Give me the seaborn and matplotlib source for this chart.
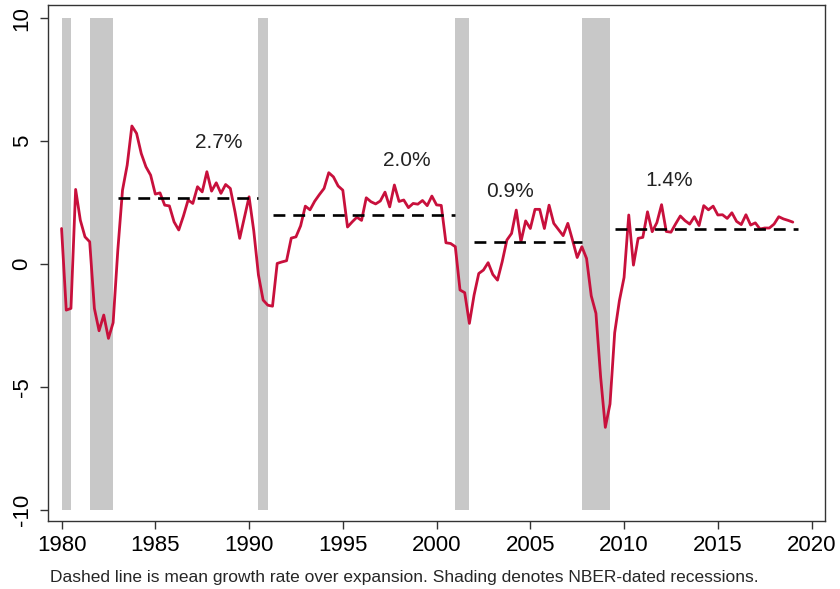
import numpy as np
import pandas as pd
import matplotlib
matplotlib.use("Agg")
import matplotlib.pyplot as plt
import seaborn as sns

# quarterly growth rate (%), 1980Q1 .. 2019Q1
growth = [
    1.44, -1.88, -1.81, 3.03,    # 1980
    1.78, 1.10, 0.90, -1.81,     # 1981
    -2.72, -2.08, -3.03, -2.39,  # 1982
    0.56, 3.00, 4.02, 5.61,      # 1983
    5.31, 4.49, 3.95, 3.61,      # 1984
    2.84, 2.89, 2.39, 2.36,      # 1985
    1.71, 1.38, 1.95, 2.60,      # 1986
    2.46, 3.14, 2.93, 3.75,      # 1987
    2.96, 3.30, 2.87, 3.23,      # 1988
    3.07, 2.12, 1.04, 1.88,      # 1989
    2.73, 1.35, -0.45, -1.47,    # 1990
    -1.68, -1.72, 0.02, 0.08,    # 1991
    0.13, 1.05, 1.10, 1.55,      # 1992
    2.35, 2.20, 2.55, 2.82,      # 1993
    3.07, 3.71, 3.54, 3.17,      # 1994
    3.00, 1.50, 1.71, 1.90,      # 1995
    1.77, 2.69, 2.53, 2.44,      # 1996
    2.56, 2.92, 2.32, 3.21,      # 1997
    2.54, 2.60, 2.29, 2.46,      # 1998
    2.43, 2.58, 2.37, 2.76,      # 1999
    2.40, 2.38, 0.86, 0.83,      # 2000
    0.70, -1.06, -1.17, -2.42,   # 2001
    -1.27, -0.39, -0.25, 0.05,   # 2002
    -0.43, -0.66, 0.09, 0.97,    # 2003
    1.24, 2.19, 0.90, 1.75,      # 2004
    1.44, 2.22, 2.22, 1.44,      # 2005
    2.39, 1.65, 1.40, 1.15,      # 2006
    1.65, 0.97, 0.26, 0.70,      # 2007
    0.22, -1.30, -2.01, -4.60,   # 2008
    -6.65, -5.70, -2.80, -1.50,  # 2009
    -0.55, 1.99, -0.05, 1.04,    # 2010
    1.08, 2.12, 1.31, 1.68,      # 2011
    2.41, 1.32, 1.29, 1.63,      # 2012
    1.95, 1.76, 1.62, 1.92,      # 2013
    1.56, 2.37, 2.20, 2.35,      # 2014
    1.99, 2.00, 1.85, 2.08,      # 2015
    1.73, 1.60, 2.00, 1.58,      # 2016
    1.67, 1.42, 1.46, 1.46,      # 2017
    1.62, 1.92, 1.83, 1.77,      # 2018
    1.70,                        # 2019
]
first_year = 1980

# NBER recessions (start, end) in fractional years
rec_start = [1980.0, 1981.5, 1990.5, 2001.0, 2007.75]
rec_end = [1980.5, 1982.75, 1991.0, 2001.75, 2009.25]

# expansions and their mean growth
exp_start = [1983.0, 1991.25, 2002.0, 2009.5]
exp_end = [1990.5, 2001.0, 2007.75, 2019.25]
exp_mean = [2.7, 2.0, 0.9, 1.4]
exp_label = ["2.7%", "2.0%", "0.9%", "1.4%"]
label_x = [1988.4, 1998.4, 2003.9, 2012.4]
label_y = [4.93, 4.22, 2.96, 3.41]

xticks = [1980, 1985, 1990, 1995, 2000, 2005, 2010, 2015, 2020]
yticks = [-10, -5, 0, 5, 10]
caption = "Dashed line is mean growth rate over expansion. Shading denotes NBER-dated recessions."

df = pd.DataFrame({
    "date": first_year + np.arange(len(growth)) / 4,
    "growth": growth,
})

sns.set_style("white")
plt.rcParams["font.family"] = ["Liberation Sans", "DejaVu Sans"]
plt.rcParams["axes.unicode_minus"] = False

fig = plt.figure(figsize=(8.4, 5.89), dpi=100)
ax = fig.add_axes([0.057, 0.1154, 0.925, 0.876])

# recession shading
for s, e in zip(rec_start, rec_end):
    ax.fill_between([s, e], -10, 10, color="#c8c8c8", lw=0, zorder=1)

sns.lineplot(data=df, x="date", y="growth", ax=ax, color="#c8103c",
             lw=2.0, zorder=3)

# mean over each expansion
ax.hlines(exp_mean, exp_start, exp_end, colors="black", linestyles=(0, (4.5, 3)),
          lw=1.9, zorder=4)

for x, y, s in zip(label_x, label_y, exp_label):
    ax.text(x, y, s, ha="center", va="center", fontsize=15, color="#222222")

ax.set_xlim(1979.27, 2020.71)
ax.set_ylim(-10.46, 10.53)
ax.set_xticks(xticks)
ax.set_yticks(yticks)
ax.set_yticklabels([str(v) for v in yticks], rotation=90, va="center")
ax.tick_params(axis="both", direction="out", length=6, width=1, color="#333333",
               labelsize=16, labelcolor="black", bottom=True, left=True)
ax.tick_params(axis="x", pad=4)
ax.tick_params(axis="y", pad=5)
ax.set_xlabel("")
ax.set_ylabel("")
for sp in ax.spines.values():
    sp.set_color("#333333")
    sp.set_linewidth(1.0)

fig.text(0.4815, 0.019, caption, ha="center", va="center", fontsize=12.5)

fig.savefig("out.png", dpi=100, facecolor="white")
